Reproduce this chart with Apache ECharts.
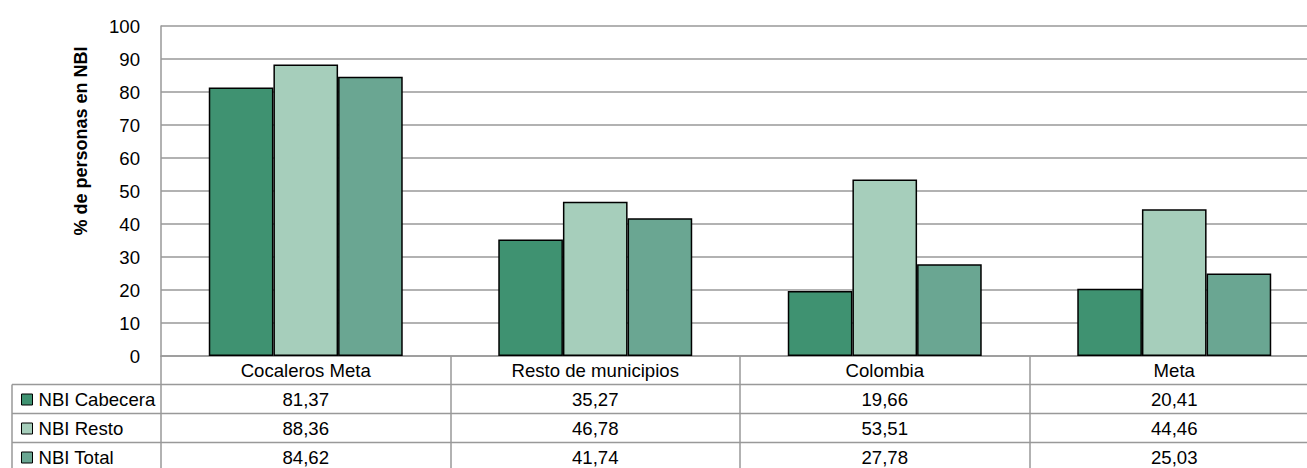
<!DOCTYPE html>
<html>
<head>
<meta charset="utf-8">
<script src="https://cdn.jsdelivr.net/npm/echarts@6/dist/echarts.min.js"></script>
<style>
html,body{margin:0;padding:0;background:#fff;}
#chart{width:1307px;height:468px;}
</style>
</head>
<body>
<div id="chart"></div>
<script>
// ---- data ----
const categories = ['Cocaleros Meta', 'Resto de municipios', 'Colombia', 'Meta'];
const seriesNames = ['NBI Cabecera', 'NBI Resto', 'NBI Total'];
const nbiCabecera = [81.37, 35.27, 19.66, 20.41];
const nbiResto = [88.36, 46.78, 53.51, 44.46];
const nbiTotal = [84.62, 41.74, 27.78, 25.03];
const yMin = 0, yMax = 100, yStep = 10;
const yTitle = '% de personas en NBI';

// ---- style ----
const FONT = "'Liberation Sans', Arial, sans-serif";
const FS = 18.6;
const colors = ['#3F9271', '#A6CEBB', '#6AA692'];
const gridColor = '#999999';
const GRID_LEFT = 161, GRID_TOP = 26, GRID_H = 330, GRID_W = 1158;
const ROW_H = 29;
const TABLE_LEFT = 12;

const allSeries = [nbiCabecera, nbiResto, nbiTotal];
const fmt = v => v.toFixed(2).replace('.', ',');

const chart = echarts.init(document.getElementById('chart'), null, { renderer: 'svg' });

const xAxisBottom = GRID_TOP + GRID_H;
const tableBottom = 468;

const graphics = [];
// horizontal table lines
for (let k = 1; k <= 3; k++) {
  const y = xAxisBottom + ROW_H * k - 0.5;
  graphics.push({ type: 'line', shape: { x1: TABLE_LEFT, y1: y, x2: 1307, y2: y },
    style: { stroke: gridColor, lineWidth: 1.5 }, silent: true });
}
// left column vertical line
graphics.push({ type: 'line', shape: { x1: TABLE_LEFT, y1: xAxisBottom + ROW_H - 0.5, x2: TABLE_LEFT, y2: tableBottom },
  style: { stroke: gridColor, lineWidth: 1.5 }, silent: true });
// y-axis title
graphics.push({ type: 'text', x: 81, y: 141, rotation: Math.PI / 2,
  style: { text: yTitle, font: "bold 18px " + FONT, fill: '#000', align: 'center', verticalAlign: 'middle' } });

const option = {
  backgroundColor: '#fff',
  animation: false,
  color: colors,
  textStyle: { fontFamily: FONT },
  grid: { left: GRID_LEFT, top: GRID_TOP, width: GRID_W, height: GRID_H, containLabel: false, outerBoundsMode: 'none' },
  legend: {
    orient: 'vertical', left: 16, top: 385, height: 200,
    itemWidth: 11, itemHeight: 11, itemGap: 10,
    icon: 'rect',
    itemStyle: { borderColor: '#000', borderWidth: 1 },
    textStyle: { fontSize: FS, lineHeight: 19, color: '#000', fontFamily: FONT, padding: [0, 0, 0, 1] },
    data: seriesNames
  },
  xAxis: {
    type: 'category',
    data: categories,
    axisLine: { show: true, lineStyle: { color: gridColor, width: 1.5 } },
    axisTick: { show: true, alignWithLabel: false, interval: 0, length: tableBottom - xAxisBottom,
      lineStyle: { color: gridColor, width: 1.5 } },
    axisLabel: {
      interval: 0, margin: 0, color: '#000', fontSize: FS, lineHeight: ROW_H, fontFamily: FONT,
      formatter: (value, idx) => {
        const lines = ['{c|' + value + '}'];
        allSeries.forEach(s => lines.push('{v|' + fmt(s[idx]) + '}'));
        return lines.join('\n');
      },
      rich: {
        c: { fontSize: FS, lineHeight: ROW_H, color: '#000', fontFamily: FONT },
        v: { fontSize: FS, lineHeight: ROW_H, color: '#000', fontFamily: FONT }
      }
    },
    splitLine: { show: false }
  },
  yAxis: {
    type: 'value', min: yMin, max: yMax, interval: yStep,
    axisLine: { show: true, lineStyle: { color: gridColor, width: 1.5 } },
    axisTick: { show: false },
    axisLabel: { color: '#000', fontSize: FS, margin: 21, fontFamily: FONT },
    splitLine: { show: true, lineStyle: { color: gridColor, width: 1.5 } }
  },
  series: allSeries.map((s, i) => ({
    name: seriesNames[i],
    type: 'bar',
    data: s,
    barGap: '0%',
    barCategoryGap: '33%',
    itemStyle: { color: colors[i], borderColor: '#000', borderWidth: 1.5 }
  })),
  graphic: graphics
};

chart.setOption(option);
</script>
</body>
</html>
